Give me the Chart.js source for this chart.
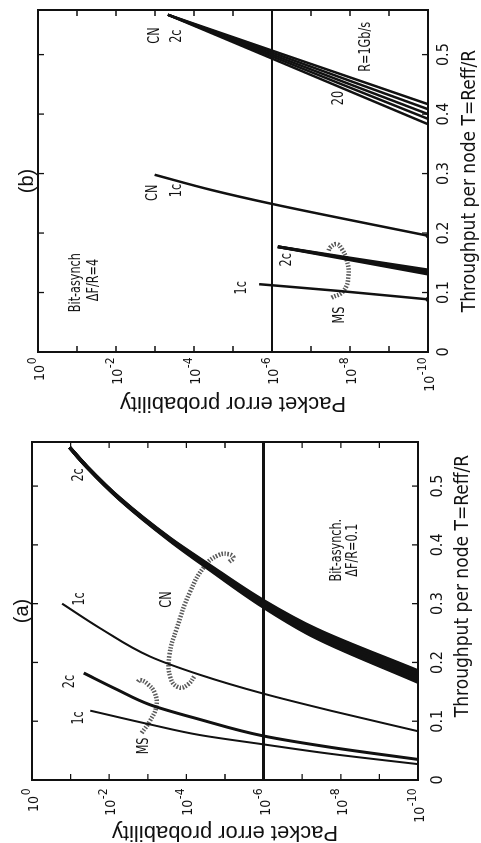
<!DOCTYPE html>
<html><head><meta charset="utf-8">
<script src="https://cdn.jsdelivr.net/npm/chart.js@4.4.1/dist/chart.umd.min.js"></script>
<style>
html,body{margin:0;padding:0;background:#fff;overflow:hidden;width:481px;height:843px;}
#rot{position:absolute;left:0;top:0;width:843px;height:481px;transform-origin:0 0;transform:translateY(843px) rotate(-90deg);}
#ca{position:absolute;left:0;top:0;}
#cb{position:absolute;left:421px;top:0;}
</style></head><body>
<div id="rot"><canvas id="ca" width="421" height="481"></canvas><canvas id="cb" width="422" height="481"></canvas></div>
<script>
// ---------- tick labels ----------
const throughputTicks = [0, 0.1, 0.2, 0.3, 0.4, 0.5];
const probExponentTicks = [0, -2, -4, -6, -8, -10];
const decadeExponents = [0, -1, -2, -3, -4, -5, -6, -7, -8, -9, -10];
const xTitle = 'Throughput per node T=Reff/R';
const yTitle = 'Packet error probability';

// ---------- panel (a): Bit-asynch, dF/R = 0.1 ----------
const a_ms1c_logP = [-10, -7.8, -5.99, -4.35, -3.06, -1.51];
const a_ms1c_T    = [0.027, 0.044, 0.0607, 0.0765, 0.0945, 0.118];
const a_ms2c_logP = [-10, -7.8, -5.99, -4.35, -3.06, -2.2, -1.34];
const a_ms2c_T    = [0.035, 0.055, 0.075, 0.103, 0.128, 0.154, 0.182];
const a_cn1c_logP = [-10, -7.8, -5.99, -4.35, -3.06, -1.77, -0.78];
const a_cn1c_T    = [0.083, 0.117, 0.147, 0.179, 0.210, 0.258, 0.300];
const a_cn2c_logP = [-10, -7.37, -5.99, -4.53, -3.58, -2.28, -1.42, -0.97];
const a_cn2c_R1_T  = [0.1855, 0.2565, 0.3055, 0.3685, 0.411, 0.479, 0.5335, 0.566];
const a_cn2c_R2_T  = [0.1808, 0.2528, 0.3028, 0.3668, 0.410, 0.4785, 0.5333, 0.566];
const a_cn2c_R5_T  = [0.176, 0.249, 0.300, 0.365, 0.409, 0.478, 0.533, 0.566];
const a_cn2c_R10_T = [0.1713, 0.2453, 0.2973, 0.3633, 0.408, 0.4775, 0.5328, 0.566];
const a_cn2c_R20_T = [0.1665, 0.2415, 0.2945, 0.3615, 0.407, 0.477, 0.5325, 0.566];
const a_ref_logP = [-6, -6];
const a_ref_T    = [0, 0.575];
const a_msLoop_logP = [-2.84, -3.05, -3.22, -3.18, -3.0, -2.8, -2.72];
const a_msLoop_T    = [0.080, 0.100, 0.125, 0.148, 0.163, 0.170, 0.165];
const a_cnLoop_logP = [-5.11, -5.22, -5.11, -4.83, -4.48, -4.09, -3.75, -3.56, -3.59, -3.81, -4.05, -4.22];
const a_cnLoop_T    = [0.3712, 0.378, 0.384, 0.3825, 0.3645, 0.3195, 0.2576, 0.2126, 0.1732, 0.1575, 0.1631, 0.1777];
const a_lab_text = ['2c', '1c', '2c', '1c', 'MS', 'CN', 'Bit-asynch.', '\u0394F/R=0.1'];
const a_lab_T    = [0.519, 0.308, 0.1676, 0.1057, 0.058, 0.307, 0.391, 0.391];
const a_lab_logP = [-1.21, -1.25, -0.99, -1.21, -2.9, -3.49, -7.89, -8.32];

// ---------- panel (b): Bit-asynch, dF/R = 4 ----------
const b_ms1c_logP = [-10, -7.74, -5.67];
const b_ms1c_T    = [0.0885, 0.1025, 0.114];
const b_ms2c_logP = [-10, -8.0, -6.15];
const b_ms2c_L1_T = [0.138, 0.158, 0.177];
const b_ms2c_L2_T = [0.1346, 0.1566, 0.177];
const b_ms2c_L3_T = [0.131, 0.155, 0.177];
const b_cn1c_logP = [-10, -6.0, -4.47, -2.99];
const b_cn1c_T    = [0.1955, 0.249, 0.272, 0.298];
const b_cn2c_logP = [-10, -3.33];
const b_cn2c_R1_T  = [0.4167, 0.567];
const b_cn2c_R2_T  = [0.4083, 0.567];
const b_cn2c_R5_T  = [0.400, 0.567];
const b_cn2c_R10_T = [0.392, 0.567];
const b_cn2c_R20_T = [0.383, 0.567];
const b_ref_logP = [-6, -6];
const b_ref_T    = [0, 0.575];
const b_msLoop_logP = [-7.53, -7.83, -7.96, -7.91, -7.79, -7.66, -7.49, -7.45];
const b_msLoop_T    = [0.0913, 0.1025, 0.1279, 0.1561, 0.173, 0.1814, 0.1758, 0.170];
const b_lab_text = ['CN', '2c', 'R=1Gb/s', '20', 'CN', '1c', '2c', '1c', 'MS', 'Bit-asynch', '\u0394F/R=4'];
const b_lab_T    = [0.532, 0.531, 0.513, 0.427, 0.2676, 0.2715, 0.155, 0.108, 0.062, 0.1166, 0.121];
const b_lab_logP = [-3.0, -3.56, -8.41, -7.72, -2.94, -3.55, -6.38, -5.23, -7.74, -0.98, -1.42];

// ---------- helpers ----------
const NARROW = "'Liberation Sans Narrow','DejaVu Sans Condensed','Liberation Sans',Arial,sans-serif";
const REG = "'Liberation Sans',Arial,sans-serif";
const INK = '#111';

function series(T, logP, opts){
  return Object.assign({
    data: T.map((t,i)=>({x:t, y:Math.pow(10, logP[i])})),
    borderColor: INK, backgroundColor: INK, pointRadius: 0, borderWidth: 2,
    cubicInterpolationMode: 'monotone', fill: false
  }, opts || {});
}
function loop(T, logP){
  return series(T, logP, {cubicInterpolationMode:'default', tension:0.45, borderColor:'#5a5a5a', borderWidth:4.5, borderDash:[1.5,1.5]});
}

const framePlugin = {
  id: 'frame',
  afterDatasetsDraw(chart, args, opts){
    const {ctx, chartArea:a} = chart; const x = chart.scales.x, y = chart.scales.y;
    ctx.save();
    ctx.strokeStyle = INK; ctx.lineWidth = 2;
    ctx.strokeRect(a.left, a.top, a.right-a.left, a.bottom-a.top);
    ctx.lineWidth = 1.3; ctx.beginPath();
    throughputTicks.forEach(v=>{ const p=x.getPixelForValue(v);
      ctx.moveTo(p,a.bottom); ctx.lineTo(p,a.bottom-6); ctx.moveTo(p,a.top); ctx.lineTo(p,a.top+6); });
    decadeExponents.forEach(e=>{ const p=y.getPixelForValue(Math.pow(10,e));
      ctx.moveTo(a.left,p); ctx.lineTo(a.left+6,p); ctx.moveTo(a.right,p); ctx.lineTo(a.right-6,p); });
    ctx.stroke();
    ctx.fillStyle = INK;
    // y tick labels: 10 with raised exponent
    ctx.textAlign = 'left'; ctx.textBaseline = 'alphabetic';
    probExponentTicks.forEach(e=>{
      const p = y.getPixelForValue(Math.pow(10,e));
      const base = '10', ex = String(e);
      ctx.font = '14px ' + NARROW; const wb = ctx.measureText(base).width;
      ctx.font = '12px ' + NARROW; const we = ctx.measureText(ex).width;
      const x0 = a.left - opts.yPad - wb - we;
      ctx.font = '14px ' + NARROW; ctx.fillText(base, x0, p + 6);
      ctx.font = '12px ' + NARROW; ctx.fillText(ex, x0 + wb + 0.5, p - 2);
    });
    // x axis title (drawn here so it can sit where the original placed it)
    ctx.textAlign = 'center'; ctx.textBaseline = 'middle';
    ctx.font = '19px ' + NARROW;
    ctx.fillText(xTitle, (a.left + a.right) / 2 + opts.xTitleShift, chart.height - opts.xTitleOff);
    // annotations, in a condensed face like the original
    ctx.font = '16px ' + NARROW;
    opts.text.forEach((s,i)=>{
      ctx.save();
      ctx.translate(x.getPixelForValue(opts.T[i]), y.getPixelForValue(Math.pow(10, opts.logP[i])));
      ctx.scale(0.78, 1);
      ctx.fillText(s, 0, 0);
      ctx.restore();
    });
    ctx.restore();
  }
};

function makeChart(id, cfg){
  return new Chart(document.getElementById(id), {
    type: 'line',
    data: { datasets: cfg.datasets },
    plugins: [framePlugin],
    options: {
      responsive: false, animation: false, devicePixelRatio: 1,
      layout: { padding: { left: 0, right: cfg.padRight, top: 0, bottom: 0 } },
      plugins: {
        legend: { display: false }, tooltip: { enabled: false },
        title: { display: true, text: cfg.title, fullSize: false, color: INK,
                 font: { family: REG, size: 20, weight: 'normal', lineHeight: 1 },
                 padding: { top: cfg.titleTop, bottom: cfg.titleBottom } },
        frame: { text: cfg.labText, T: cfg.labT, logP: cfg.labLogP, yPad: cfg.yTickPad,
                 xTitleShift: cfg.xTitleShift, xTitleOff: cfg.xTitleOff }
      },
      scales: {
        x: { type: 'linear', min: 0, max: 0.575,
             afterBuildTicks: s => { s.ticks = throughputTicks.map(v=>({value:v})); },
             afterFit: s => { s.height = cfg.xHeight; },
             grid: { display: false, drawTicks: false }, border: { display: false },
             ticks: { color: INK, padding: cfg.xTickPad, maxRotation: 0, autoSkip: false,
                      font: { family: NARROW, size: 16 },
                      callback: v => v === 0 ? '0' : Number(v).toFixed(1) },
             title: { display: false } },
        y: { type: 'logarithmic', min: 1e-10, max: 1,
             afterBuildTicks: s => { s.ticks = probExponentTicks.map(e=>({value:Math.pow(10,e)})); },
             afterFit: s => { s.width = cfg.yWidth; },
             grid: { display: false, drawTicks: false }, border: { display: false },
             ticks: { display: false },
             title: { display: true, text: yTitle, color: INK,
                      font: { family: REG, size: 22, lineHeight: 1 },
                      padding: { top: cfg.yTitlePad, bottom: 0 } } }
      }
    }
  });
}

makeChart('ca', {
  title: '(a)', titleTop: 12, titleBottom: 0, padRight: 20,
  xHeight: 63, xTickPad: 10, xTitleShift: 25, xTitleOff: 18, yWidth: 63, yTickPad: 9, yTitlePad: 0,
  labText: a_lab_text, labT: a_lab_T, labLogP: a_lab_logP,
  datasets: [
    series(a_ref_T, a_ref_logP, {borderWidth: 3, cubicInterpolationMode:'default'}),
    series(a_ms1c_T, a_ms1c_logP, {borderWidth: 2}),
    series(a_ms2c_T, a_ms2c_logP, {borderWidth: 3}),
    series(a_cn1c_T, a_cn1c_logP, {borderWidth: 2}),
    series(a_cn2c_R1_T, a_cn2c_logP, {borderWidth: 3.5}),
    series(a_cn2c_R2_T, a_cn2c_logP, {borderWidth: 3.5}),
    series(a_cn2c_R5_T, a_cn2c_logP, {borderWidth: 3.5}),
    series(a_cn2c_R10_T, a_cn2c_logP, {borderWidth: 3.5}),
    series(a_cn2c_R20_T, a_cn2c_logP, {borderWidth: 3.5}),
    loop(a_msLoop_T, a_msLoop_logP),
    loop(a_cnLoop_T, a_cnLoop_logP)
  ]
});

const endDot = {pointRadius: c => c.dataIndex === 0 ? 2.5 : 0, pointBorderWidth: 0};
makeChart('cb', {
  title: '(b)', titleTop: 17, titleBottom: 1, padRight: 10,
  xHeight: 53, xTickPad: 6, xTitleShift: 0, xTitleOff: 11, yWidth: 70, yTickPad: 6, yTitlePad: 8,
  labText: b_lab_text, labT: b_lab_T, labLogP: b_lab_logP,
  datasets: [
    series(b_ref_T, b_ref_logP, {borderWidth: 2, cubicInterpolationMode:'default'}),
    series(b_ms1c_T, b_ms1c_logP, Object.assign({borderWidth: 2.5}, endDot)),
    series(b_ms2c_L1_T, b_ms2c_logP, {borderWidth: 3}),
    series(b_ms2c_L2_T, b_ms2c_logP, Object.assign({borderWidth: 3}, endDot)),
    series(b_ms2c_L3_T, b_ms2c_logP, {borderWidth: 3}),
    series(b_cn1c_T, b_cn1c_logP, Object.assign({borderWidth: 2.5}, endDot)),
    series(b_cn2c_R1_T, b_cn2c_logP, {borderWidth: 2.5}),
    series(b_cn2c_R2_T, b_cn2c_logP, {borderWidth: 2.5}),
    series(b_cn2c_R5_T, b_cn2c_logP, {borderWidth: 2.5}),
    series(b_cn2c_R10_T, b_cn2c_logP, {borderWidth: 2.5}),
    series(b_cn2c_R20_T, b_cn2c_logP, {borderWidth: 2.5}),
    loop(b_msLoop_T, b_msLoop_logP)
  ]
});
</script>
</body></html>
